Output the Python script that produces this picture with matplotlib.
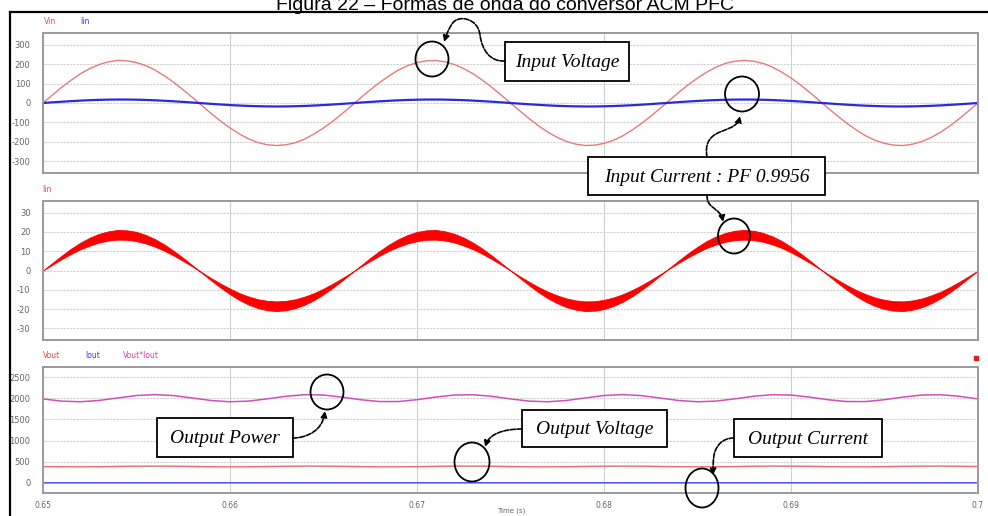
import matplotlib

matplotlib.use("Agg")
import matplotlib.pyplot as plt
from matplotlib.patches import Ellipse, Rectangle, FancyArrowPatch
from matplotlib.path import Path

plt.rcParams["axes.unicode_minus"] = False

# ---- data ----
# input side, one sample every 0.5 ms
time_in = [0.6500, 0.6505, 0.6510, 0.6515, 0.6520, 0.6525, 0.6530, 0.6535, 0.6540,
           0.6545, 0.6550, 0.6555, 0.6560, 0.6565, 0.6570, 0.6575, 0.6580, 0.6585,
           0.6590, 0.6595, 0.6600, 0.6605, 0.6610, 0.6615, 0.6620, 0.6625, 0.6630,
           0.6635, 0.6640, 0.6645, 0.6650, 0.6655, 0.6660, 0.6665, 0.6670, 0.6675,
           0.6680, 0.6685, 0.6690, 0.6695, 0.6700, 0.6705, 0.6710, 0.6715, 0.6720,
           0.6725, 0.6730, 0.6735, 0.6740, 0.6745, 0.6750, 0.6755, 0.6760, 0.6765,
           0.6770, 0.6775, 0.6780, 0.6785, 0.6790, 0.6795, 0.6800, 0.6805, 0.6810,
           0.6815, 0.6820, 0.6825, 0.6830, 0.6835, 0.6840, 0.6845, 0.6850, 0.6855,
           0.6860, 0.6865, 0.6870, 0.6875, 0.6880, 0.6885, 0.6890, 0.6895, 0.6900,
           0.6905, 0.6910, 0.6915, 0.6920, 0.6925, 0.6930, 0.6935, 0.6940, 0.6945,
           0.6950, 0.6955, 0.6960, 0.6965, 0.6970, 0.6975, 0.6980, 0.6985, 0.6990,
           0.6995, 0.7000]

vin = [0, 41, 81, 118, 151, 178, 199, 213, 220, 218, 209, 193, 170, 140, 106, 68,
       28, -14, -55, -94, -129, -160, -186, -205, -216, -220, -216, -205, -186,
       -160, -129, -94, -55, -14, 28, 68, 106, 140, 170, 193, 209, 218, 220, 213,
       199, 178, 151, 118, 81, 41, 0, -41, -81, -118, -151, -178, -199, -213, -220,
       -218, -209, -193, -170, -140, -106, -68, -28, 14, 55, 94, 129, 160, 186, 205,
       216, 220, 216, 205, 186, 160, 129, 94, 55, 14, -28, -68, -106, -140, -170,
       -193, -209, -218, -220, -213, -199, -178, -151, -118, -81, -41, 0]

iin_avg = [0, 3.4, 6.6, 9.6, 12.3, 14.6, 16.3, 17.4, 18.0, 17.9, 17.1, 15.8, 13.9,
           11.5, 8.7, 5.6, 2.3, -1.1, -4.5, -7.7, -10.6, -13.1, -15.2, -16.7, -17.7,
           -18.0, -17.7, -16.7, -15.2, -13.1, -10.6, -7.7, -4.5, -1.1, 2.3, 5.6, 8.7,
           11.5, 13.9, 15.8, 17.1, 17.9, 18.0, 17.4, 16.3, 14.6, 12.3, 9.6, 6.6, 3.4,
           0, -3.4, -6.6, -9.6, -12.3, -14.6, -16.3, -17.4, -18.0, -17.9, -17.1,
           -15.8, -13.9, -11.5, -8.7, -5.6, -2.3, 1.1, 4.5, 7.7, 10.6, 13.1, 15.2,
           16.7, 17.7, 18.0, 17.7, 16.7, 15.2, 13.1, 10.6, 7.7, 4.5, 1.1, -2.3, -5.6,
           -8.7, -11.5, -13.9, -15.8, -17.1, -17.9, -18.0, -17.4, -16.3, -14.6,
           -12.3, -9.6, -6.6, -3.4, 0]

# switching-ripple band of the inductor current (outer / inner edge)
iin_outer = [0, 3.9, 7.7, 11.3, 14.4, 17.0, 19.0, 20.3, 21.0, 20.8, 20.0, 18.4,
             16.2, 13.4, 10.1, 6.5, 2.6, -1.3, -5.2, -8.9, -12.3, -15.3, -17.7,
             -19.5, -20.6, -21.0, -20.6, -19.5, -17.7, -15.3, -12.3, -8.9, -5.2,
             -1.3, 2.6, 6.5, 10.1, 13.4, 16.2, 18.4, 20.0, 20.8, 21.0, 20.3, 19.0,
             17.0, 14.4, 11.3, 7.7, 3.9, 0, -3.9, -7.7, -11.3, -14.4, -17.0, -19.0,
             -20.3, -21.0, -20.8, -20.0, -18.4, -16.2, -13.4, -10.1, -6.5, -2.6,
             1.3, 5.2, 8.9, 12.3, 15.3, 17.7, 19.5, 20.6, 21.0, 20.6, 19.5, 17.7,
             15.3, 12.3, 8.9, 5.2, 1.3, -2.6, -6.5, -10.1, -13.4, -16.2, -18.4,
             -20.0, -20.8, -21.0, -20.3, -19.0, -17.0, -14.4, -11.3, -7.7, -3.9, 0]
iin_inner = [0, 3.0, 5.9, 8.6, 11.0, 12.9, 14.5, 15.5, 16.0, 15.9, 15.2, 14.0,
             12.3, 10.2, 7.7, 4.9, 2.0, -1.0, -4.0, -6.8, -9.4, -11.7, -13.5, -14.9,
             -15.7, -16.0, -15.7, -14.9, -13.5, -11.7, -9.4, -6.8, -4.0, -1.0, 2.0,
             4.9, 7.7, 10.2, 12.3, 14.0, 15.2, 15.9, 16.0, 15.5, 14.5, 12.9, 11.0,
             8.6, 5.9, 3.0, 0, -3.0, -5.9, -8.6, -11.0, -12.9, -14.5, -15.5, -16.0,
             -15.9, -15.2, -14.0, -12.3, -10.2, -7.7, -4.9, -2.0, 1.0, 4.0, 6.8,
             9.4, 11.7, 13.5, 14.9, 15.7, 16.0, 15.7, 14.9, 13.5, 11.7, 9.4, 6.8,
             4.0, 1.0, -2.0, -4.9, -7.7, -10.2, -12.3, -14.0, -15.2, -15.9, -16.0,
             -15.5, -14.5, -12.9, -11.0, -8.6, -5.9, -3.0, 0]

# output side, one sample every 1 ms
time_out = [0.650, 0.651, 0.652, 0.653, 0.654, 0.655, 0.656, 0.657, 0.658, 0.659,
            0.660, 0.661, 0.662, 0.663, 0.664, 0.665, 0.666, 0.667, 0.668, 0.669,
            0.670, 0.671, 0.672, 0.673, 0.674, 0.675, 0.676, 0.677, 0.678, 0.679,
            0.680, 0.681, 0.682, 0.683, 0.684, 0.685, 0.686, 0.687, 0.688, 0.689,
            0.690, 0.691, 0.692, 0.693, 0.694, 0.695, 0.696, 0.697, 0.698, 0.699,
            0.700]

vout = [388, 383, 381, 384, 391, 397, 399, 396, 390, 384, 381, 383, 388, 395, 399,
        398, 393, 386, 382, 382, 386, 393, 398, 399, 395, 388, 383, 381, 384, 391,
        397, 399, 396, 390, 384, 381, 383, 388, 395, 399, 398, 393, 386, 382, 382,
        386, 393, 398, 399, 395, 388]

iout = [5.11, 5.04, 5.03, 5.07, 5.13, 5.20, 5.23, 5.20, 5.14, 5.07, 5.03, 5.04,
        5.12, 5.18, 5.22, 5.21, 5.15, 5.09, 5.03, 5.03, 5.09, 5.16, 5.21, 5.22,
        5.18, 5.11, 5.04, 5.03, 5.07, 5.13, 5.20, 5.23, 5.20, 5.14, 5.07, 5.03,
        5.04, 5.12, 5.18, 5.22, 5.21, 5.15, 5.09, 5.03, 5.03, 5.09, 5.16, 5.21,
        5.22, 5.18, 5.11]

pout = [1983, 1931, 1916, 1947, 2006, 2063, 2085, 2061, 2004, 1945, 1916, 1932,
        1985, 2046, 2083, 2074, 2025, 1963, 1921, 1921, 1965, 2027, 2075, 2082,
        2045, 1983, 1931, 1916, 1947, 2006, 2063, 2085, 2061, 2004, 1945, 1916,
        1932, 1985, 2046, 2083, 2074, 2025, 1963, 1921, 1921, 1965, 2027, 2075,
        2082, 2045, 1983]

x_ticks = [0.65, 0.66, 0.67, 0.68, 0.69, 0.70]
x_ticklabels = ["0.65", "0.66", "0.67", "0.68", "0.69", "0.7"]
y1_ticks = [-300, -200, -100, 0, 100, 200, 300]
y2_ticks = [-30, -20, -10, 0, 10, 20, 30]
y3_ticks = [0, 500, 1000, 1500, 2000, 2500]

W, H = 988, 516
GRID = "#cfcfcf"
TICK = "#666666"


def px_rect(x0, y0, x1, y1):
    return [x0 / W, 1 - y1 / H, (x1 - x0) / W, (y1 - y0) / H]


def style_panel(ax, yticks, ylim):
    ax.set_xlim(0.65, 0.70)
    ax.set_ylim(*ylim)
    ax.set_yticks(yticks)
    ax.set_xticks(x_ticks)
    for v in yticks:
        ax.axhline(v, color=GRID, lw=0.8, ls=(0, (2, 1)), zorder=0)
    for v in x_ticks[1:-1]:
        ax.axvline(v, color=GRID, lw=0.8, zorder=0)
    ax.tick_params(length=0, labelsize=6, labelcolor=TICK, pad=9)
    for s in ax.spines.values():
        s.set_color("#9a9a9a")
        s.set_linewidth(1.4)


fig = plt.figure(figsize=(W / 100, H / 100), dpi=100)

ax1 = fig.add_axes(px_rect(43, 33, 978, 173))
ax1.plot(time_in, vin, color="#e87a7a", lw=1.0)
ax1.plot(time_in, iin_avg, color="#2a2ad8", lw=1.6)
style_panel(ax1, y1_ticks, (-362, 362))
ax1.set_xticklabels([])

ax2 = fig.add_axes(px_rect(43, 201, 978, 340))
ax2.fill_between(time_in, iin_outer, iin_inner, color="#ff0000", lw=0.6,
                 edgecolor="#ff0000")
style_panel(ax2, y2_ticks, (-36, 36))
ax2.set_xticklabels([])

ax3 = fig.add_axes(px_rect(43, 367, 978, 493))
ax3.plot(time_out, pout, color="#d050b8", lw=1.1)
ax3.plot(time_out, vout, color="#e86a6a", lw=1.0)
ax3.plot(time_out, iout, color="#4a4af0", lw=1.0)
style_panel(ax3, y3_ticks, (-236, 2736))
ax3.set_xticklabels(x_ticklabels)
ax3.tick_params(axis="x", pad=6, labelsize=5.5)

# ---- overlay in pixel coordinates for labels, callouts and frame ----
ov = fig.add_axes([0, 0, 1, 1], zorder=10)
ov.set_xlim(0, W)
ov.set_ylim(H, 0)
ov.axis("off")
ov.patch.set_alpha(0)

ov.text(505, 10, "Figura 22 – Formas de onda do conversor ACM PFC",
        family="Liberation Sans", fontsize=14, ha="center", va="baseline")
ov.plot([10, W], [12, 12], color="black", lw=1.6)
ov.plot([10, 10], [12, H], color="black", lw=1.6)

small = dict(fontsize=5.5, va="center", ha="left")
ov.text(44, 22, "Vin", color="#e04848", **small)
ov.text(80, 22, "Iin", color="#3a3ae0", **small)
ov.text(42, 189, "Iin", color="#e04848", **small)
ov.text(43, 356, "Vout", color="#e04848", **small)
ov.text(85, 356, "Iout", color="#3a3ae0", **small)
ov.text(123, 356, "Vout*Iout", color="#d040b0", **small)
ov.add_patch(Rectangle((974, 356), 4, 4, color="#e02020"))
ov.text(511, 511, "Time (s)", fontsize=5, color=TICK, ha="center", va="center")

boxes = [
    ((505, 42, 629, 81), "Input Voltage"),
    ((588, 157, 825, 195), "Input Current : PF 0.9956"),
    ((157, 418, 293, 457), "Output Power"),
    ((522, 410, 667, 447), "Output Voltage"),
    ((734, 419, 882, 457), "Output Current"),
]
for (x0, y0, x1, y1), label in boxes:
    ov.add_patch(Rectangle((x0, y0), x1 - x0, y1 - y0, facecolor="white",
                           edgecolor="black", lw=1.3))
    ov.text((x0 + x1) / 2, (y0 + y1) / 2 + 1, label, family="Liberation Serif",
            style="italic", fontsize=14, ha="center", va="center")

circles = [(432, 59, 33, 35), (742, 94, 34, 35), (734, 236, 32, 35),
           (327, 392, 33, 35), (472, 462, 35, 39), (702, 488, 33, 39)]
for cx, cy, w, h in circles:
    ov.add_patch(Ellipse((cx, cy), w, h, fill=False, edgecolor="black", lw=1.3))

arrows = [
    [(505, 61), (490, 62), (482, 50), (480, 35), (478, 18), (458, 14), (452, 24),
     (448, 30), (446, 36), (444, 42)],
    [(707, 157), (705, 145), (708, 137), (720, 132), (733, 127), (738, 125),
     (740, 116)],
    [(707, 195), (707, 205), (712, 206), (716, 210), (720, 213), (722, 216),
     (723, 222)],
    [(293, 438), (305, 438), (315, 432), (318, 428), (322, 424), (324, 418),
     (325, 411)],
    [(522, 429), (505, 429), (495, 433), (490, 438), (487, 441), (486, 444),
     (485, 447)],
    [(734, 438), (722, 438), (716, 446), (714, 455), (713, 462), (713, 468),
     (713, 475)],
]
for pts in arrows:
    codes = [Path.MOVETO] + [Path.CURVE4] * (len(pts) - 1)
    ov.add_patch(FancyArrowPatch(path=Path(pts, codes), arrowstyle="-|>",
                                 mutation_scale=9, color="black", lw=1.2,
                                 linestyle=(0, (3, 1))))

fig.savefig("out.png", dpi=100)
